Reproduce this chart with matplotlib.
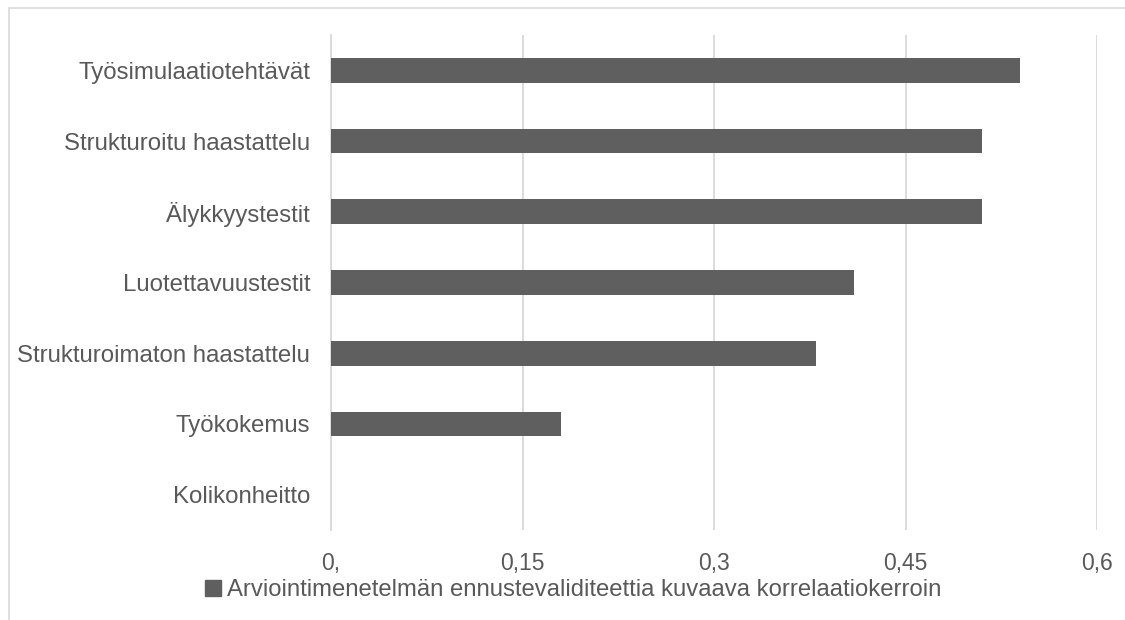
import matplotlib.pyplot as plt
from matplotlib.patches import Patch, Rectangle

categories = ["Työsimulaatiotehtävät", "Strukturoitu haastattelu", "Älykkyystestit",
              "Luotettavuustestit", "Strukturoimaton haastattelu", "Työkokemus",
              "Kolikonheitto"]
values = [0.54, 0.51, 0.51, 0.41, 0.38, 0.18, 0.0]
xticks = [0, 0.15, 0.3, 0.45, 0.6]
xtick_labels = ["0,", "0,15", "0,3", "0,45", "0,6"]
series_name = "Arviointimenetelmän ennustevaliditeettia kuvaava korrelaatiokerroin"

txt = "#595959"
bar_col = "#5f5f5f"
grid_col = "#d9d9d9"

plt.rcParams['font.family'] = ['Liberation Sans', 'DejaVu Sans']

W, H = 1125, 620
fig = plt.figure(figsize=(W / 100, H / 100), dpi=100)
ax = fig.add_axes([331 / W, 1 - 530 / H, (1097 - 331) / W, (530 - 35) / H])

# outer chart frame (Excel style), only top and left visible
fig.patches.append(Rectangle((9 / W, -0.1), 1.2, 1 - 8 / H + 0.1, transform=fig.transFigure,
                             fill=False, edgecolor=grid_col, linewidth=1.2, zorder=0))

ypos = list(range(len(categories)))
ax.barh(ypos, values, height=0.35, color=bar_col, zorder=3)
ax.set_ylim(len(categories) - 0.5, -0.5)
ax.set_xlim(0, 0.6)

ax.set_xticks(xticks)
ax.set_xticklabels(xtick_labels)
ax.set_yticks(ypos)
ax.set_yticklabels(categories)
ax.tick_params(axis='x', length=0, pad=16, labelsize=16.5, labelcolor=txt)
ax.tick_params(axis='y', length=0, pad=15, labelsize=17.3, labelcolor=txt)

ax.grid(axis='x', color=grid_col, linewidth=1.3, zorder=0)
for s in ['top', 'right', 'bottom']:
    ax.spines[s].set_visible(False)
ax.spines['left'].set_color(grid_col)
ax.spines['left'].set_linewidth(1.3)

fig.legend(handles=[Patch(color=bar_col, label=series_name)], loc='center',
           bbox_to_anchor=(573 / W, 1 - 590 / H), frameon=False, fontsize=17.2,
           labelcolor=txt, handlelength=0.65, handleheight=0.65, handletextpad=0.25,
           borderpad=0, borderaxespad=0)

fig.savefig("out.png", dpi=100)
